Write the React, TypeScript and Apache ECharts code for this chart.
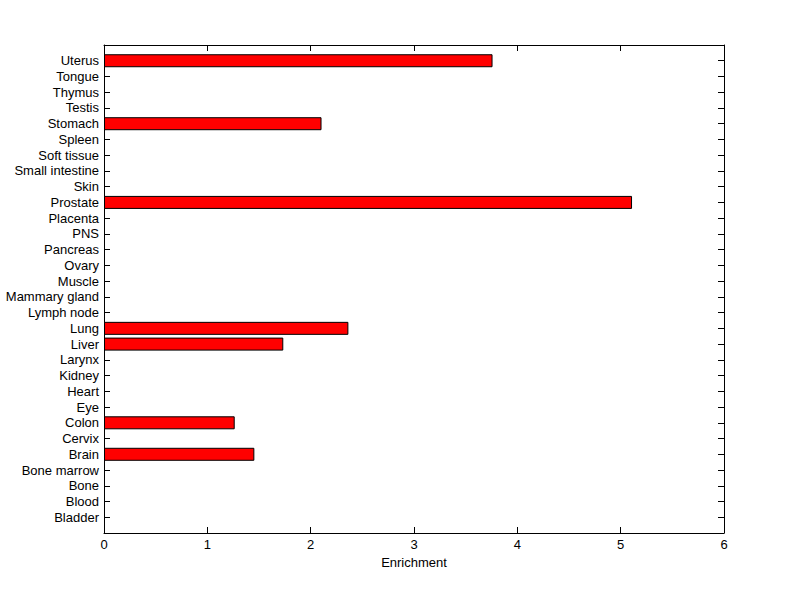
import React, { useEffect, useRef } from "react";
import * as echarts from "echarts";

const categories = [
  "Bladder", "Blood", "Bone", "Bone marrow", "Brain", "Cervix", "Colon", "Eye",
  "Heart", "Kidney", "Larynx", "Liver", "Lung", "Lymph node", "Mammary gland",
  "Muscle", "Ovary", "Pancreas", "PNS", "Placenta", "Prostate", "Skin",
  "Small intestine", "Soft tissue", "Spleen", "Stomach", "Testis", "Thymus",
  "Tongue", "Uterus",
];
const enrichment = [
  0, 0, 0, 0, 1.455, 0, 1.265, 0,
  0, 0, 0, 1.735, 2.365, 0, 0,
  0, 0, 0, 0, 0, 5.11, 0,
  0, 0, 0, 2.105, 0, 0,
  0, 3.76,
];
const xTicks = [0, 1, 2, 3, 4, 5, 6];

export default function App() {
  const ref = useRef<HTMLDivElement>(null);
  useEffect(() => {
    if (!ref.current) return;
    const chart = echarts.init(ref.current, undefined, { renderer: "svg" });
    const cats = ["", ...categories, ""];
    const vals = [null, ...enrichment.map((v) => (v === 0 ? null : v)), null];
    const font = { fontFamily: "Liberation Sans, Arial, sans-serif", fontSize: 13, color: "#000" };
    const lineStyle = { color: "#000", width: 1 };
    chart.setOption({
      animation: false,
      backgroundColor: "#fff",
      grid: { left: 104, right: 76, top: 45, bottom: 66, containLabel: false },
      xAxis: [
        {
          type: "value",
          min: xTicks[0],
          max: xTicks[xTicks.length - 1],
          interval: 1,
          position: "bottom",
          name: "Enrichment",
          nameLocation: "middle",
          nameGap: 22,
          nameTextStyle: font,
          axisLine: { show: true, onZero: false, lineStyle },
          axisTick: { show: true, inside: true, length: 6, lineStyle },
          axisLabel: { ...font, margin: 5 },
          splitLine: { show: false },
        },
        {
          type: "value",
          min: xTicks[0],
          max: xTicks[xTicks.length - 1],
          interval: 1,
          position: "top",
          axisLine: { show: true, onZero: false, lineStyle },
          axisTick: { show: true, inside: true, length: 6, lineStyle },
          axisLabel: { show: false },
          splitLine: { show: false },
        },
      ],
      yAxis: [
        {
          type: "category",
          data: cats,
          boundaryGap: false,
          position: "left",
          axisLine: { show: true, onZero: false, lineStyle },
          axisTick: { show: true, inside: true, length: 6, lineStyle, interval: 0 },
          axisLabel: { ...font, margin: 5, interval: 0 },
          splitLine: { show: false },
        },
        {
          type: "category",
          data: cats,
          boundaryGap: false,
          position: "right",
          axisLine: { show: true, onZero: false, lineStyle },
          axisTick: { show: true, inside: true, length: 6, lineStyle, interval: 0 },
          axisLabel: { show: false },
          splitLine: { show: false },
        },
      ],
      series: [
        {
          type: "bar",
          xAxisIndex: 0,
          yAxisIndex: 0,
          data: vals,
          barWidth: 13,
          itemStyle: { color: "#ff0000", borderColor: "#000", borderWidth: 1 },
        },
      ],
    });
    return () => chart.dispose();
  }, []);
  return <div ref={ref} style={{ width: 800, height: 599, position: "absolute", left: 0, top: 0 }} />;
}
